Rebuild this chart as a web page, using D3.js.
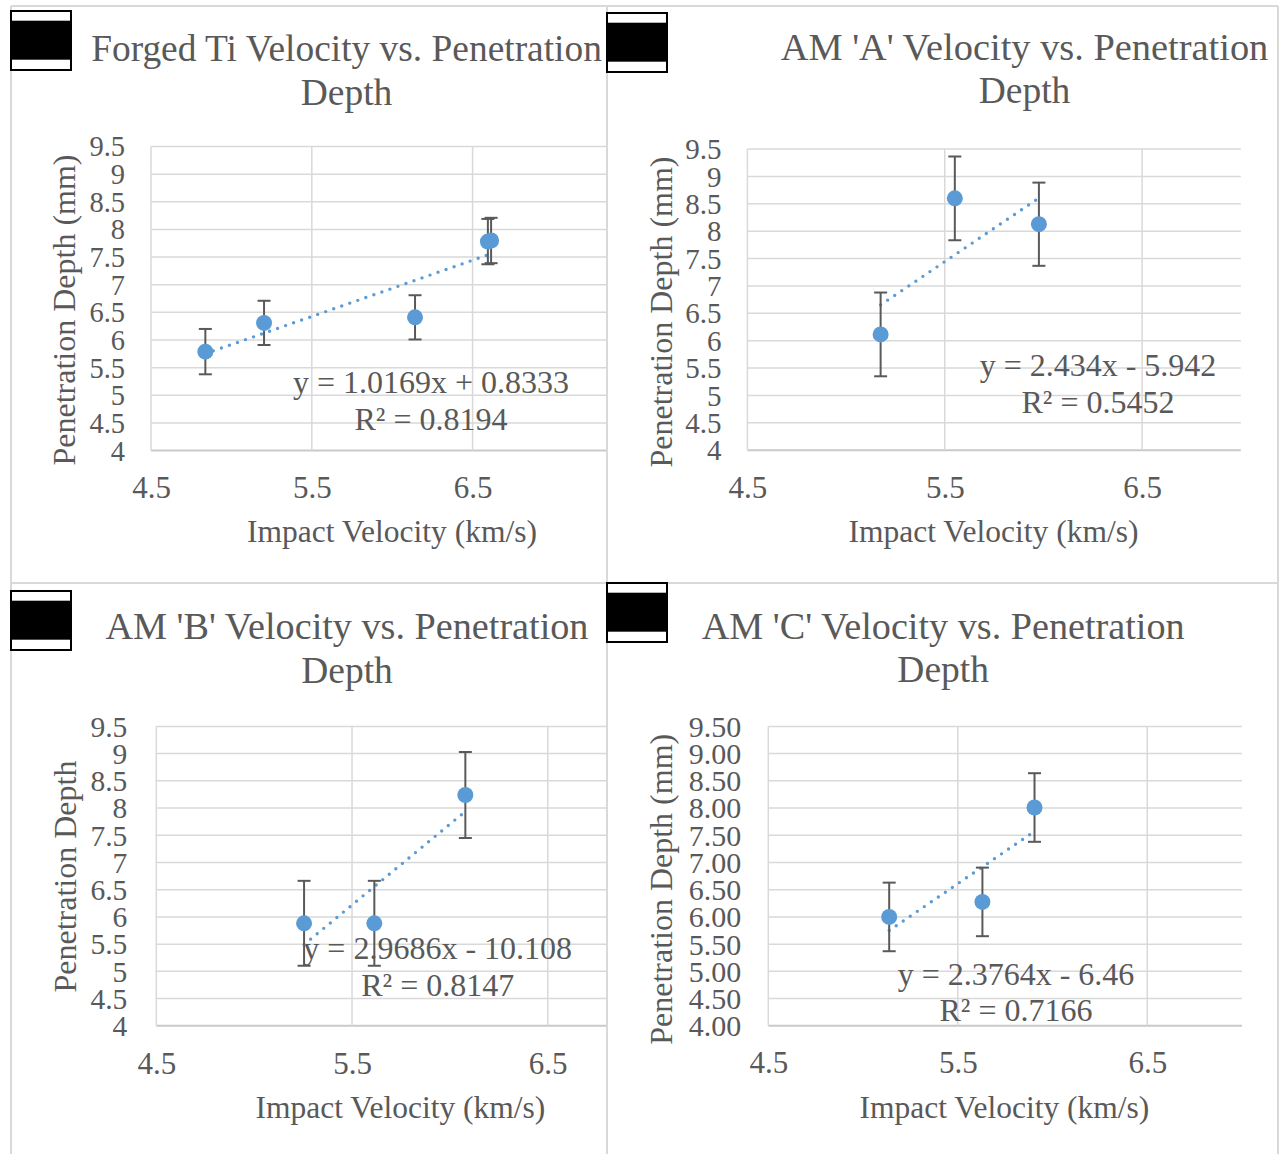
<!DOCTYPE html>
<html>
<head>
<meta charset="utf-8">
<script src="https://cdn.jsdelivr.net/npm/d3@7"></script>
<style>
  body { margin: 0; background: #ffffff; }
  svg { display: block; }
  text { font-family: "Liberation Serif", "Times New Roman", serif; fill: #595959; }
</style>
</head>
<body>
<svg id="chart" width="1280" height="1154"></svg>
<script>
// ---------------- DATA ----------------
const chartTitles = [
  "Forged Ti Velocity vs. Penetration",
  "AM 'A' Velocity vs. Penetration",
  "AM 'B' Velocity vs. Penetration",
  "AM 'C' Velocity vs. Penetration"
];
const titleSecondLine = "Depth";
const xAxisTitle = "Impact Velocity (km/s)";
const yAxisTitles = ["Penetration Depth (mm)", "Penetration Depth (mm)", "Penetration Depth", "Penetration Depth (mm)"];

const xTickValues = [4.5, 5.5, 6.5];
const yTickValues = [4, 4.5, 5, 5.5, 6, 6.5, 7, 7.5, 8, 8.5, 9, 9.5];

const forgedVelocity = [4.838, 5.203, 6.142, 6.595, 6.615];
const forgedDepth    = [5.79, 6.31, 6.41, 7.78, 7.80];
const forgedError    = [0.41, 0.40, 0.40, 0.41, 0.41];

const amAVelocity = [5.175, 5.551, 5.977];
const amADepth    = [6.115, 8.60, 8.128];
const amAError    = [0.765, 0.765, 0.76];

const amBVelocity = [5.255, 5.614, 6.079];
const amBDepth    = [5.883, 5.883, 8.24];
const amBError    = [0.78, 0.78, 0.79];

const amCVelocity = [5.138, 5.630, 5.905];
const amCDepth    = [6.00, 6.276, 8.01];
const amCError    = [0.63, 0.63, 0.63];

const trendSlopes     = [1.0169, 2.434, 2.9686, 2.3764];
const trendIntercepts = [0.8333, -5.942, -10.108, -6.46];
const equationLabels  = ["y = 1.0169x + 0.8333", "y = 2.434x - 5.942", "y = 2.9686x - 10.108", "y = 2.3764x - 6.46"];
const r2Labels        = ["R\u00B2 = 0.8194", "R\u00B2 = 0.5452", "R\u00B2 = 0.8147", "R\u00B2 = 0.7166"];

// ---------------- LAYOUT ----------------
const seriesX = [forgedVelocity, amAVelocity, amBVelocity, amCVelocity];
const seriesY = [forgedDepth, amADepth, amBDepth, amCDepth];
const seriesE = [forgedError, amAError, amBError, amCError];

const layout = [
  { clip: [11, 6, 596, 577], x0: 151, x1: 633.4, xMax: 7.5, yTop: 146.5, yBot: 450.6,
    yPad: 26, yTickFs: 28.5, yFmt: d => String(d), xLabY: 498, titleFs: 37.4,
    title: [346.5, 61, 105], xTitle: [392, 542], yTitle: [75, 310], eq: [431, 392.6, 429.6],
    box: [10, 10] },
  { clip: [607, 6, 671, 577], x0: 747.4, x1: 1240.8, xMax: 7.0, yTop: 149.1, yBot: 450.2,
    yPad: 26, yTickFs: 29, yFmt: d => String(d), xLabY: 498, titleFs: 38.4,
    title: [1024.5, 59.5, 103], xTitle: [993.5, 542], yTitle: [672, 312], eq: [1098, 376, 412.6],
    box: [606, 12] },
  { clip: [11, 583, 596, 571], x0: 156.3, x1: 645.6, xMax: 7.0, yTop: 726.4, yBot: 1025.8,
    yPad: 29, yTickFs: 29.5, yFmt: d => String(d), xLabY: 1074, titleFs: 38.2,
    title: [347, 638.6, 682.5], xTitle: [400.4, 1118], yTitle: [75.5, 876.5], eq: [437.7, 959, 995.7],
    box: [10, 590] },
  { clip: [607, 583, 671, 571], x0: 768.3, x1: 1242, xMax: 7.0, yTop: 726.4, yBot: 1025.8,
    yPad: 27, yTickFs: 30, yFmt: d3.format(".2f"), xLabY: 1073, titleFs: 38.2,
    title: [943.2, 638.6, 682], xTitle: [1004.4, 1118], yTitle: [671.5, 889.3], eq: [1016, 984.8, 1021],
    box: [606, 582] }
];

const svg = d3.select("#chart");
const BLUE = "#5B9BD5";
const TEXT = "#595959";
const GRID = "#D9D9D9";

const defs = svg.append("defs");

layout.forEach((L, i) => {
  const clipId = "clip" + i;
  defs.append("clipPath").attr("id", clipId)
    .append("rect").attr("x", L.clip[0]).attr("y", L.clip[1]).attr("width", L.clip[2]).attr("height", L.clip[3]);

  const g = svg.append("g").attr("clip-path", `url(#${clipId})`);

  const x = d3.scaleLinear().domain([4.5, L.xMax]).range([L.x0, L.x1]);
  const y = d3.scaleLinear().domain([4, 9.5]).range([L.yBot, L.yTop]);

  // horizontal gridlines
  g.append("g").selectAll("line").data(yTickValues).join("line")
    .attr("x1", x(4.5)).attr("x2", x(L.xMax))
    .attr("y1", d => y(d)).attr("y2", d => y(d))
    .attr("stroke", d => d === 4 ? "#C9C9C9" : GRID)
    .attr("stroke-width", d => d === 4 ? 2 : 1.5);

  // vertical gridlines
  g.append("g").selectAll("line").data(xTickValues).join("line")
    .attr("x1", d => x(d)).attr("x2", d => x(d))
    .attr("y1", y(9.5)).attr("y2", y(4))
    .attr("stroke", GRID).attr("stroke-width", 1.5);

  // axes (labels only)
  const yAxis = g.append("g").attr("transform", `translate(${x(4.5)},0)`)
    .call(d3.axisLeft(y).tickValues(yTickValues).tickSize(0).tickPadding(L.yPad).tickFormat(L.yFmt));
  yAxis.select(".domain").remove();
  yAxis.selectAll("text").attr("font-size", L.yTickFs).attr("fill", TEXT)
    .attr("font-family", "Liberation Serif, Times New Roman, serif").attr("dy", "0.33em");

  const xAxis = g.append("g").attr("transform", `translate(0,${y(4)})`)
    .call(d3.axisBottom(x).tickValues(xTickValues).tickSize(0).tickFormat(d => d.toFixed(1)));
  xAxis.select(".domain").remove();
  xAxis.selectAll("text").attr("font-size", 31).attr("fill", TEXT)
    .attr("font-family", "Liberation Serif, Times New Roman, serif")
    .attr("y", L.xLabY - y(4)).attr("dy", 0);

  // titles
  g.append("text").attr("x", L.title[0]).attr("y", L.title[1]).attr("text-anchor", "middle")
    .attr("font-size", L.titleFs).text(chartTitles[i]);
  g.append("text").attr("x", L.title[0]).attr("y", L.title[2]).attr("text-anchor", "middle")
    .attr("font-size", 37.5).text(titleSecondLine);

  g.append("text").attr("x", L.xTitle[0]).attr("y", L.xTitle[1]).attr("text-anchor", "middle")
    .attr("font-size", 31.5).text(xAxisTitle);
  g.append("text").attr("transform", `translate(${L.yTitle[0]},${L.yTitle[1]}) rotate(-90)`)
    .attr("text-anchor", "middle").attr("font-size", 32).text(yAxisTitles[i]);

  // trendline equation
  g.append("text").attr("x", L.eq[0]).attr("y", L.eq[1]).attr("text-anchor", "middle")
    .attr("font-size", 32).text(equationLabels[i]);
  g.append("text").attr("x", L.eq[0]).attr("y", L.eq[2]).attr("text-anchor", "middle")
    .attr("font-size", 32).text(r2Labels[i]);

  const pts = seriesX[i].map((vx, k) => ({ vx, vy: seriesY[i][k], e: seriesE[i][k] }));

  // trendline (dotted)
  const xmin = d3.min(seriesX[i]), xmax = d3.max(seriesX[i]);
  const tl = [xmin, xmax].map(v => [x(v), y(trendSlopes[i] * v + trendIntercepts[i])]);
  g.append("path").attr("d", d3.line()(tl))
    .attr("fill", "none").attr("stroke", BLUE).attr("stroke-width", 3.4)
    .attr("stroke-linecap", "round").attr("stroke-dasharray", "0 8.5");

  // error bars
  const eb = g.append("g").attr("stroke", TEXT).attr("stroke-width", 2).attr("fill", "none");
  pts.forEach(p => {
    const cx = x(p.vx), t = y(p.vy + p.e), b = y(p.vy - p.e);
    eb.append("line").attr("x1", cx).attr("x2", cx).attr("y1", t).attr("y2", b);
    eb.append("line").attr("x1", cx - 6.5).attr("x2", cx + 6.5).attr("y1", t).attr("y2", t);
    eb.append("line").attr("x1", cx - 6.5).attr("x2", cx + 6.5).attr("y1", b).attr("y2", b);
  });

  // markers
  g.append("g").selectAll("circle").data(pts).join("circle")
    .attr("cx", p => x(p.vx)).attr("cy", p => y(p.vy)).attr("r", 8)
    .attr("fill", BLUE);
});

// panel borders
const borders = svg.append("g").attr("stroke", GRID).attr("stroke-width", 2);
[[11, 6, 1278, 6], [11, 583, 1278, 583], [11, 6, 11, 1154], [607, 6, 607, 1154], [1278, 6, 1278, 1154]]
  .forEach(l => borders.append("line").attr("x1", l[0]).attr("y1", l[1]).attr("x2", l[2]).attr("y2", l[3]));

// black placeholder boxes
layout.forEach(L => {
  const [bx, by] = L.box;
  const bw = 62, bh = 61;
  const gb = svg.append("g");
  gb.append("rect").attr("x", bx).attr("y", by).attr("width", bw).attr("height", bh).attr("fill", "#000");
  gb.append("rect").attr("x", bx + 2).attr("y", by + 2).attr("width", bw - 4).attr("height", 8.7).attr("fill", "#fff");
  gb.append("rect").attr("x", bx + 2).attr("y", by + 49.7).attr("width", bw - 4).attr("height", 9.3).attr("fill", "#fff");
});
</script>
</body>
</html>
